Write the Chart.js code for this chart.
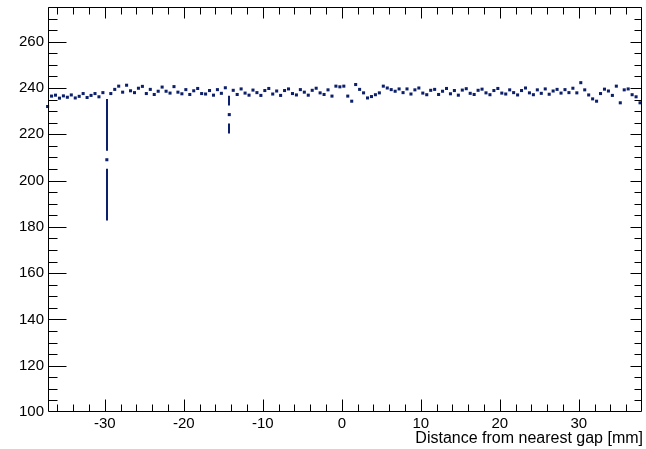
<!DOCTYPE html>
<html><head><meta charset="utf-8">
<script src="https://cdn.jsdelivr.net/npm/chart.js@4"></script>
<style>html,body{margin:0;padding:0;background:#fff}#wrap{width:646px;height:449px;position:relative}</style>
</head><body><div id="wrap"><canvas id="c" width="646" height="449"></canvas></div>
<script>
// Bin centres [mm]
const xCenters = [
-37.25,-36.75,-36.25,-35.75,-35.25,-34.75,-34.25,-33.75,-33.25,-32.75,
-32.25,-31.75,-31.25,-30.75,-30.25,-29.75,-29.25,-28.75,-28.25,-27.75,
-27.25,-26.75,-26.25,-25.75,-25.25,-24.75,-24.25,-23.75,-23.25,-22.75,
-22.25,-21.75,-21.25,-20.75,-20.25,-19.75,-19.25,-18.75,-18.25,-17.75,
-17.25,-16.75,-16.25,-15.75,-15.25,-14.75,-14.25,-13.75,-13.25,-12.75,
-12.25,-11.75,-11.25,-10.75,-10.25,-9.75,-9.25,-8.75,-8.25,-7.75,
-7.25,-6.75,-6.25,-5.75,-5.25,-4.75,-4.25,-3.75,-3.25,-2.75,
-2.25,-1.75,-1.25,-0.75,-0.25,0.25,0.75,1.25,1.75,2.25,
2.75,3.25,3.75,4.25,4.75,5.25,5.75,6.25,6.75,7.25,
7.75,8.25,8.75,9.25,9.75,10.25,10.75,11.25,11.75,12.25,
12.75,13.25,13.75,14.25,14.75,15.25,15.75,16.25,16.75,17.25,
17.75,18.25,18.75,19.25,19.75,20.25,20.75,21.25,21.75,22.25,
22.75,23.25,23.75,24.25,24.75,25.25,25.75,26.25,26.75,27.25,
27.75,28.25,28.75,29.25,29.75,30.25,30.75,31.25,31.75,32.25,
32.75,33.25,33.75,34.25,34.75,35.25,35.75,36.25,36.75,37.25,37.75
];
// Measured values
const yValues = [
232.0,236.5,236.9,235.6,236.6,236.0,237.0,235.7,236.4,237.6,
235.9,236.8,237.6,236.2,238.0,209.0,237.6,239.4,240.8,238.2,
241.2,238.8,238.0,239.9,240.7,237.6,239.4,237.2,238.6,240.4,
238.6,237.8,240.6,238.2,237.5,239.3,237.2,238.8,239.8,237.6,
237.4,238.9,236.9,239.3,237.7,240.1,228.5,239.0,237.2,239.6,
237.8,236.9,239.1,238.0,236.8,238.9,239.8,237.4,238.7,236.8,
238.9,239.6,237.6,237.0,239.3,238.2,236.9,239.0,239.9,237.9,
237.2,239.2,236.5,240.8,240.5,240.8,236.5,234.3,241.5,239.4,
237.9,235.7,236.3,237.1,237.9,240.8,240.0,239.3,238.6,239.6,
238.0,239.6,237.4,239.2,240.0,237.8,237.1,239.0,239.4,237.2,
238.6,239.8,237.5,238.9,236.9,239.1,239.7,237.7,237.2,239.0,
239.5,237.9,237.1,238.9,239.8,237.8,237.4,239.2,238.0,237.0,
238.9,240.0,237.9,237.1,239.2,237.7,239.6,237.3,238.7,239.4,
237.8,239.3,238.0,239.9,237.9,242.3,239.2,237.0,235.3,234.3,
237.6,239.5,238.7,236.8,240.8,233.6,239.2,239.6,237.1,236.2,233.6
];
// Statistical errors
const yErrors = [
0.9,0.9,0.9,0.9,0.9,0.9,0.9,0.9,0.9,0.9,
0.9,0.9,0.9,0.9,0.9,26.2,0.9,0.9,0.9,0.9,
0.9,0.9,0.9,0.9,0.9,0.9,0.9,0.9,0.9,0.9,
0.9,0.9,0.9,0.9,0.9,0.9,0.9,0.9,0.9,0.9,
0.9,0.9,0.9,0.9,0.9,0.9,8.2,0.9,0.9,0.9,
0.9,0.9,0.9,0.9,0.9,0.9,0.9,0.9,0.9,0.9,
0.9,0.9,0.9,0.9,0.9,0.9,0.9,0.9,0.9,0.9,
0.9,0.9,0.9,0.9,0.9,0.9,0.9,0.9,0.9,0.9,
0.9,0.9,0.9,0.9,0.9,0.9,0.9,0.9,0.9,0.9,
0.9,0.9,0.9,0.9,0.9,0.9,0.9,0.9,0.9,0.9,
0.9,0.9,0.9,0.9,0.9,0.9,0.9,0.9,0.9,0.9,
0.9,0.9,0.9,0.9,0.9,0.9,0.9,0.9,0.9,0.9,
0.9,0.9,0.9,0.9,0.9,0.9,0.9,0.9,0.9,0.9,
0.9,0.9,0.9,0.9,0.9,0.9,0.9,0.9,0.9,0.9,
0.9,0.9,0.9,0.9,0.9,0.9,0.9,0.9,0.9,0.9,0.9
];
const xMajorTicks = [-30,-20,-10,0,10,20,30];
const yMajorTicks = [100,120,140,160,180,200,220,240,260];
const xTitle = 'Distance from nearest gap [mm]';

const MARK = '#0c1f6b';
const FONT = 'Liberation Sans, Arial, Helvetica, sans-serif';

const errorBars = {
  id: 'errorBars',
  afterDatasetsDraw(chart) {
    const xs = chart.scales.x, ys = chart.scales.y, ctx = chart.ctx;
    const gap = 9;
    ctx.save();
    ctx.strokeStyle = MARK; ctx.lineWidth = 2;
    ctx.beginPath();
    for (let i = 0; i < yValues.length; i++) {
      const px = Math.round(xs.getPixelForValue(xCenters[i]));
      const pv = ys.getPixelForValue(yValues[i]);
      const pt = ys.getPixelForValue(yValues[i] + yErrors[i]);
      const pb = ys.getPixelForValue(yValues[i] - yErrors[i]);
      if (pv - pt > gap) { ctx.moveTo(px, pt); ctx.lineTo(px, pv - gap); }
      if (pb - pv > gap) { ctx.moveTo(px, pv + gap); ctx.lineTo(px, pb); }
    }
    ctx.stroke();
    ctx.restore();
  }
};

const frame = {
  id: 'frame',
  afterDraw(chart) {
    const a = chart.chartArea, xs = chart.scales.x, ys = chart.scales.y, ctx = chart.ctx;
    const L = a.left + 0.5, R = a.right - 0.5, T = a.top + 0.5, B = a.bottom - 0.5;
    ctx.save();
    ctx.strokeStyle = '#000'; ctx.lineWidth = 1;
    ctx.beginPath();
    ctx.rect(L, T, R - L, B - T);
    for (let v = -36; v <= 38; v += 2) {
      const p = Math.round(xs.getPixelForValue(v)) + 0.5;
      if (p < L || p > R) continue;
      const major = xMajorTicks.includes(v);
      ctx.moveTo(p, B); ctx.lineTo(p, B - (major ? 12 : 7));
      ctx.moveTo(p, T); ctx.lineTo(p, T + (major ? 11 : 7));
    }
    for (let v = 100; v <= 275; v += 5) {
      const p = Math.round(ys.getPixelForValue(v)) + 0.5;
      if (p < T || p > B) continue;
      const major = yMajorTicks.includes(v);
      ctx.moveTo(L, p); ctx.lineTo(L + (major ? 18 : 9), p);
      ctx.moveTo(R, p); ctx.lineTo(R - (major ? 11 : 7), p);
    }
    ctx.stroke();
    ctx.fillStyle = '#000';
    ctx.font = '16px ' + FONT;
    ctx.textAlign = 'right'; ctx.textBaseline = 'alphabetic';
    ctx.fillText(xTitle, 643, 443);
    ctx.restore();
  }
};

new Chart(document.getElementById('c'), {
  type: 'scatter',
  data: {
    datasets: [{
      data: xCenters.map((x, i) => ({ x: x, y: yValues[i] })),
      pointStyle: 'rect',
      pointRadius: 2.15,
      pointBorderWidth: 0,
      backgroundColor: MARK,
      borderColor: MARK,
      showLine: false,
      clip: false
    }]
  },
  options: {
    responsive: false,
    animation: false,
    layout: { padding: { top: 7, right: 3, left: 0, bottom: 0 } },
    plugins: { legend: { display: false }, tooltip: { enabled: false } },
    scales: {
      x: {
        type: 'linear', min: -37.2, max: 38,
        afterFit(s) { s.height = 37; s.paddingLeft = 0; s.paddingRight = 0; },
        afterBuildTicks(s) { s.ticks = xMajorTicks.map(v => ({ value: v })); },
        grid: { display: false, drawTicks: false },
        border: { display: false },
        ticks: { padding: 3, color: '#000', font: { family: FONT, size: 15 }, maxRotation: 0, autoSkip: false }
      },
      y: {
        type: 'linear', min: 100, max: 275,
        afterFit(s) { s.width = 48; s.paddingTop = 0; s.paddingBottom = 0; },
        afterBuildTicks(s) { s.ticks = yMajorTicks.map(v => ({ value: v })); },
        grid: { display: false, drawTicks: false },
        border: { display: false },
        ticks: { padding: 4, color: '#000', font: { family: FONT, size: 15 } }
      }
    }
  },
  plugins: [errorBars, frame]
});
</script>
</body></html>
